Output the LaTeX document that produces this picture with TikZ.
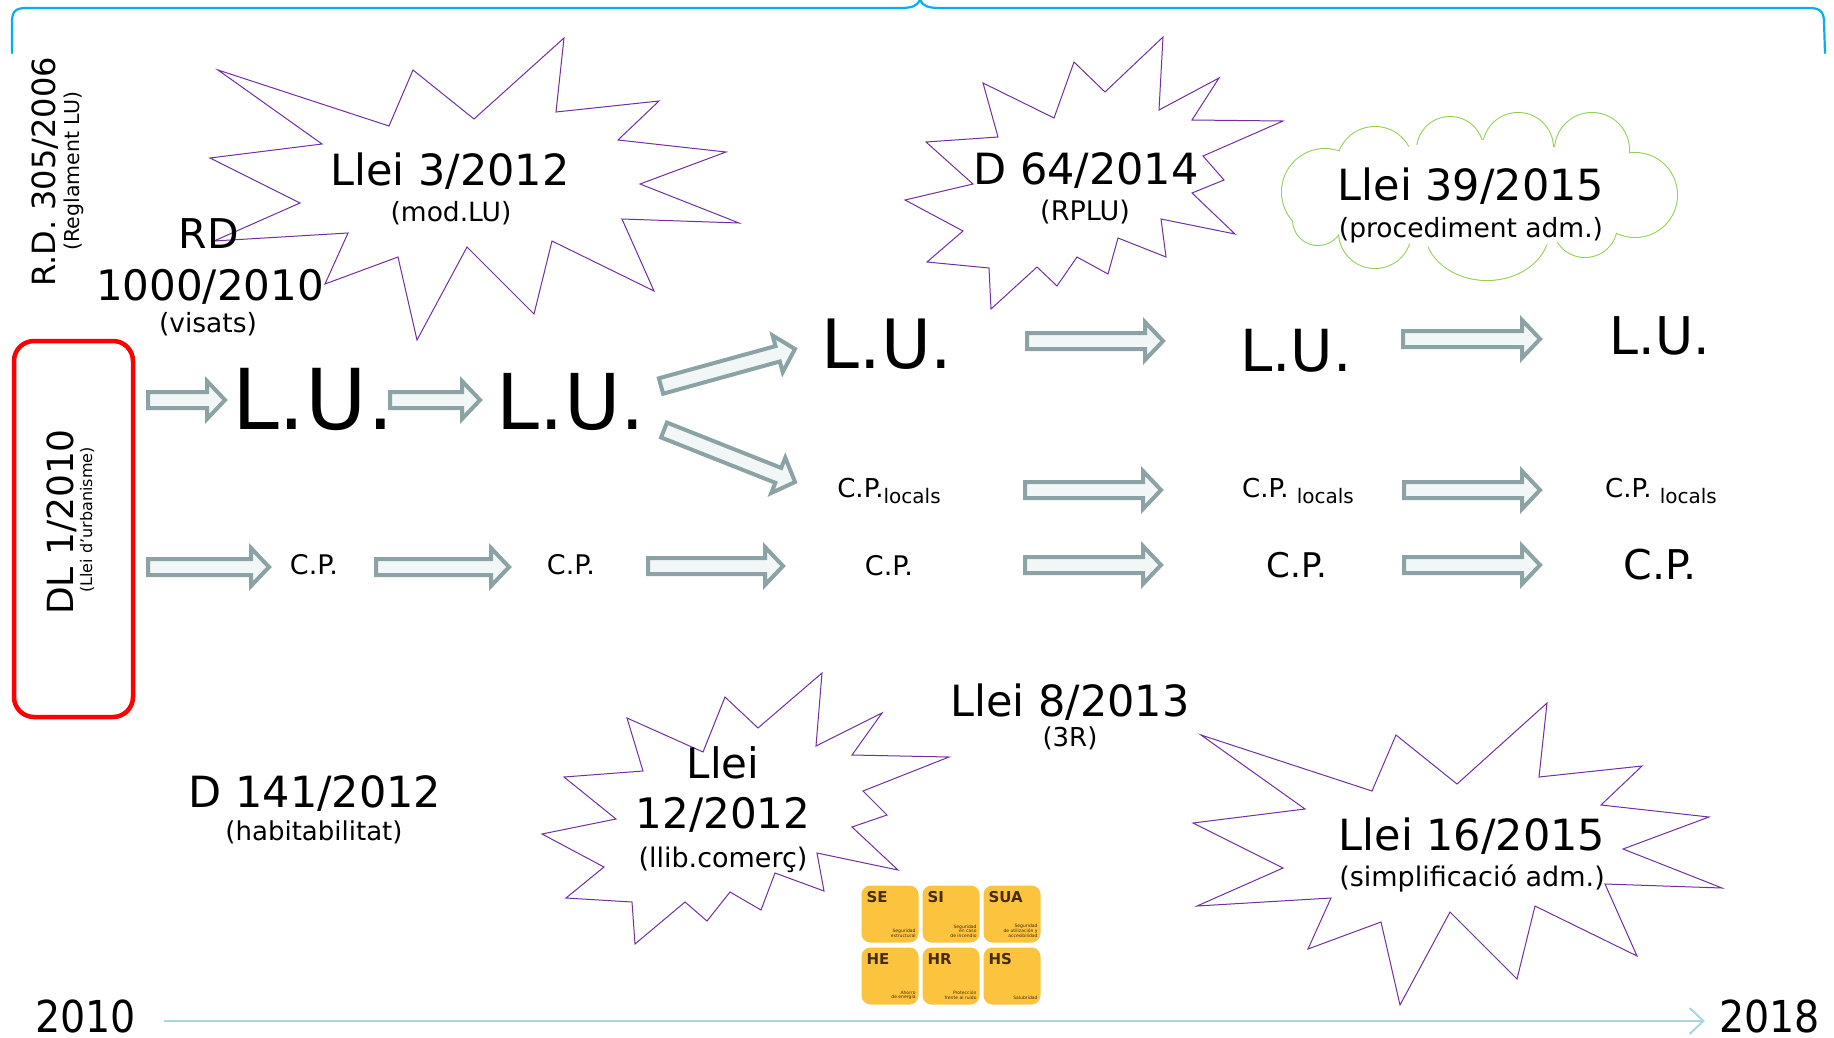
\documentclass[tikz,border=0pt]{standalone}
\usepackage{fontspec}
\setmainfont{DejaVu Sans}
\newfontfamily\condfont{DejaVu Sans Condensed}
\usetikzlibrary{calc,arrows.meta}

\definecolor{bracec}{RGB}{0,176,240}
\definecolor{burstc}{RGB}{112,48,160}
\definecolor{cloudc}{RGB}{146,208,80}
\definecolor{arrowc}{RGB}{139,163,165}
\definecolor{arrowf}{RGB}{241,247,247}
\definecolor{timec}{RGB}{170,215,222}
\definecolor{ctey}{RGB}{252,196,62}
\definecolor{ctet}{RGB}{70,45,10}

\newcommand\fs[1]{\fontsize{#1}{#1}\selectfont}

\newcommand\barrow[2]{%
 \coordinate (bh) at ($(#2)!18pt!(#1)$);
 \draw[blockarrow] ($(#1)!8pt!90:(#2)$) -- ($(bh)!8pt!90:(#2)$) -- ($(bh)!19pt!90:(#2)$) -- (#2)
   -- ($(bh)!19pt!-90:(#2)$) -- ($(bh)!8pt!-90:(#2)$) -- ($(#1)!8pt!-90:(#2)$) -- cycle;}

\newcommand\burstA{(218,70) -- (389,126) -- (413,70) -- (474,119) -- (564,38) -- (556,112) -- (659,101) -- (618,140) -- (726,152) -- (640,184) -- (739,223) -- (622,219) -- (654,291) -- (552,241) -- (534,314) -- (467,247) -- (417,340) -- (398,257) -- (325,284) -- (348,233) -- (214,241) -- (300,203) -- (210,158) -- (322,144) -- cycle}

\newcommand\cloudpuffs{(1325,192) circle (43) (1375,165) circle (38) (1450,150) circle (33) (1518,148) circle (35) (1592,150) circle (37) (1635,195) circle (42) (1585,225) circle (32) (1487,230) ellipse (62 and 50) (1375,232) circle (36) (1318,220) circle (25)}

\tikzset{
  blockarrow/.style={draw=arrowc, fill=arrowf, line width=4pt, line join=miter},
  burst/.style={draw=burstc, line width=1pt, line join=miter},
  txt/.style={anchor=base, inner sep=0pt, text=black},
  tile/.style={fill=ctey, rounded corners=9pt, minimum width=57pt, minimum height=57pt, inner sep=0pt},
  tiletitle/.style={anchor=north west, inner sep=0pt, font=\bfseries\fs{15}, text=ctet},
  tilesub/.style={anchor=south east, inner sep=0pt, font=\fs{4.5}, text=ctet, align=right},
}

\begin{document}
\begin{tikzpicture}[x=1pt,y=-1pt]
\useasboundingbox[fill=white] (0,0) rectangle (1834,1037);

% top brace
\draw[bracec, line width=2.2pt, line cap=round]
  (12,53) -- (12,22) .. controls (12,12) and (15,8) .. (26,8) -- (900,8)
  .. controls (912,8) and (917,6) .. (920,0) .. controls (923,6) and (928,8) .. (940,8)
  -- (1810,8) .. controls (1820,8) and (1824,12) .. (1824,22) -- (1825,53);

% starbursts
\draw[burst] \burstA;
\begin{scope}[shift={(983,665)}]
\draw[burst] \burstA;
\end{scope}
\draw[burst] (983,83) -- (1054,118) -- (1074,62) -- (1105,92) -- (1163,37) -- (1159,110) -- (1219,78) -- (1192,120) -- (1283,121) -- (1203,156) -- (1224,180) -- (1192,193) -- (1235,234) -- (1161,219) -- (1166,257) -- (1118,238) -- (1108,274) -- (1077,257) -- (1057,286) -- (1037,267) -- (991,309) -- (989,268) -- (927,262) -- (963,231) -- (905,200) -- (973,184) -- (926,142) -- (998,137) -- cycle;
\draw[burst] (627,718) -- (703,752) -- (725,697) -- (758,728) -- (822,673) -- (816,746) -- (882,713) -- (852,755) -- (949,757) -- (863,791) -- (887,815) -- (852,827) -- (898,870) -- (817,853) -- (824,891) -- (775,873) -- (761,910) -- (730,892) -- (707,921) -- (685,902) -- (635,944) -- (632,902) -- (566,898) -- (604,867) -- (542,834) -- (616,819) -- (564,777) -- (643,771) -- cycle;

% cloud (outline of the union of puffs)
\draw[cloudc, line width=2pt] \cloudpuffs;
\fill[white] \cloudpuffs;
\fill[white] (1480,195) ellipse (150 and 55);

% red box
\node[draw=red, line width=4.5pt, rounded corners=20pt, minimum width=119pt, minimum height=376pt] (dlbox) at (73.5,529) {};
\node[txt, rotate=90, font=\fs{36}] (dl) at (73,522) {DL 1/2010};
\node[txt, rotate=90, font=\fs{16}] (dlsub) at (92,520) {(Llei d’urbanisme)};

% R.D. 305/2006
\node[txt, rotate=90, font=\fs{32}] (rd305) at (55,172) {R.D. 305/2006};
\node[txt, rotate=90, font=\fs{20.5}] (rd305s) at (79,171) {(Reglament LU)};

% RD 1000/2010
\node[txt, font=\fs{41}] (rd) at (209,248) {RD};
\node[txt, font=\fs{42}] (rd1000) at (210,300) {1000/2010};
\node[txt, font=\fs{26.5}] (visats) at (208,332) {(visats)};

% texts of the bursts and the cloud
\node[txt, font=\fs{43}] (l3) at (450,185) {Llei 3/2012};
\node[txt, font=\fs{26.5}] (l3s) at (451,221) {(mod.LU)};
\node[txt, font=\fs{43}] (d64) at (1086,184) {D 64/2014};
\node[txt, font=\fs{27}] (d64s) at (1085,220) {(RPLU)};
\node[txt, font=\fs{43}] (l39) at (1471,200) {Llei 39/2015};
\node[txt, font=\fs{26.5}] (l39s) at (1471,237) {(procediment adm.)};
\node[txt, font=\fs{42}] (l12a) at (723,778) {Llei};
\node[txt, font=\fs{42}] (l12b) at (723,828) {12/2012};
\node[txt, font=\fs{27}] (l12s) at (723,867) {(llib.comerç)};
\node[txt, font=\fs{43}] (l16) at (1472,850) {Llei 16/2015};
\node[txt, font=\fs{27}] (l16s) at (1472,886) {(simplificació adm.)};
\node[txt, font=\fs{43}] (l8) at (1070,716) {Llei 8/2013};
\node[txt, font=\fs{26}] (l8s) at (1070,746) {(3R)};
\node[txt, font=\fs{43}] (d141) at (315,807) {D 141/2012};
\node[txt, font=\fs{26}] (d141s) at (314,840) {(habitabilitat)};

% L.U. row
\node[txt, font=\fs{84}] (lu1) at (313,429) {L.U.};
\node[txt, font=\fs{77}] (lu2) at (571,429) {L.U.};
\node[txt, font=\fs{68}] (lu3) at (887,368) {L.U.};
\node[txt, font=\fs{58}] (lu4) at (1296,371) {L.U.};
\node[txt, font=\fs{52}] (lu5) at (1660,354) {L.U.};

% C.P. locals row
\node[txt, font=\fs{26}] (cpl3) at (889,497) {C.P.\raisebox{-6pt}{\fs{20}locals}};
\node[txt, font=\fs{26}] (cpl4) at (1298,497) {C.P. \raisebox{-6pt}{\fs{20}locals}};
\node[txt, font=\fs{26}] (cpl5) at (1661,497) {C.P. \raisebox{-6pt}{\fs{20}locals}};

% C.P. row
\node[txt, font=\fs{27}] (cp1) at (314,574) {C.P.};
\node[txt, font=\fs{27}] (cp2) at (571,574) {C.P.};
\node[txt, font=\fs{27}] (cp3) at (889,575) {C.P.};
\node[txt, font=\fs{34}] (cp4) at (1297,577) {C.P.};
\node[txt, font=\fs{41}] (cp5) at (1660,579) {C.P.};

% block arrows
\coordinate (a1s) at (148,400); \coordinate (a1e) at (225,400);
\coordinate (a2s) at (390,400); \coordinate (a2e) at (480,400);
\coordinate (a3s) at (661,386); \coordinate (a3e) at (795,349);
\coordinate (a4s) at (664,430); \coordinate (a4e) at (795,482);
\coordinate (a5s) at (1027,341); \coordinate (a5e) at (1163,341);
\coordinate (a6s) at (1403,339); \coordinate (a6e) at (1540,339);
\coordinate (a7s) at (1025,490); \coordinate (a7e) at (1161,490);
\coordinate (a8s) at (1404,490); \coordinate (a8e) at (1540,490);
\coordinate (a9s) at (148,567); \coordinate (a9e) at (269,567);
\coordinate (a10s) at (376,567); \coordinate (a10e) at (509,567);
\coordinate (a11s) at (648,566); \coordinate (a11e) at (783,566);
\coordinate (a12s) at (1025,565); \coordinate (a12e) at (1161,565);
\coordinate (a13s) at (1404,565); \coordinate (a13e) at (1540,565);
\foreach \i in {1,...,13} {\barrow{a\i s}{a\i e}}

% CTE tiles
\node[tile] (se) at (890,914) {};
\node[tile] (si) at (951,914) {};
\node[tile] (sua) at (1012,914) {};
\node[tile] (he) at (890,976) {};
\node[tile] (hr) at (951,976) {};
\node[tile] (hs) at (1012,976) {};
\foreach \t/\l/\s in {se/SE/{Seguridad\\estructural}, si/SI/{Seguridad\\en caso\\de incendio}, sua/SUA/{Seguridad\\de utilización y\\accesibilidad}, he/HE/{Ahorro\\de energía}, hr/HR/{Protección\\frente al ruido}, hs/HS/{Salubridad}} {
  \node[tiletitle] at ($(\t.north west)+(5,6)$) {\l};
  \node[tilesub] at ($(\t.south east)+(-3,-5)$) {\s};
}

% timeline
\node[txt, anchor=base west, font=\condfont\fs{44}] (y2010) at (35,1032) {2010};
\node[txt, anchor=base east, font=\condfont\fs{44}] (y2018) at (1820,1032) {2018};
\coordinate (tl0) at (164,1021); \coordinate (tl1) at (1705,1021);
\draw[timec, line width=2pt, -{Straight Barb[length=14pt,width=26pt]}] (tl0) -- (tl1);
\end{tikzpicture}
\end{document}
